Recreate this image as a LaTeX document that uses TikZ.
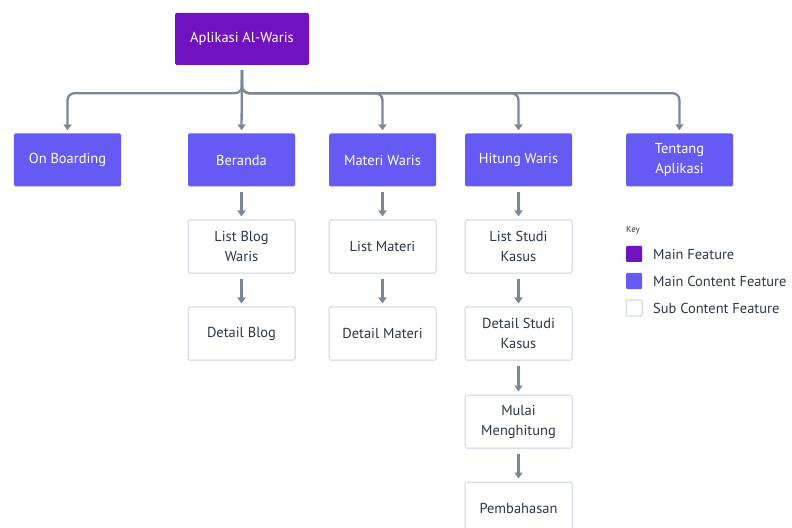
\documentclass[tikz,border=0pt]{standalone}
\usepackage{fontspec}
\setmainfont{PT Sans}
\usetikzlibrary{arrows.meta}
\definecolor{mainf}{RGB}{112,18,192}
\definecolor{contf}{RGB}{102,90,245}
\definecolor{subb}{RGB}{200,210,222}
\definecolor{conn}{RGB}{122,136,150}
\definecolor{txt}{RGB}{45,55,68}
\tikzset{
  box/.style={minimum width=107bp, minimum height=53bp, rounded corners=1.5bp, align=center, font=\fontsize{14.5}{20}\selectfont, inner sep=2bp},
  mainbox/.style={box, fill=mainf, text=white, minimum width=134bp, minimum height=52bp},
  contbox/.style={box, fill=contf, text=white},
  subbox/.style={box, fill=white, draw=subb, line width=1bp, text=txt},
  link/.style={draw=conn, line width=2.3bp, -{Triangle[length=6bp,width=8bp]}, shorten <=5bp, shorten >=3bp},
  branch/.style={link, rounded corners=7bp},
  keysq/.style={minimum size=16bp, inner sep=0pt, rounded corners=1bp},
  keytxt/.style={anchor=west, text=txt, font=\fontsize{14.5}{16}\selectfont, inner sep=0pt}
}
\begin{document}
\begin{tikzpicture}[x=1bp,y=-1bp]
\useasboundingbox (0,0) rectangle (792,528);
\node[mainbox] (top) at (242,39) {Aplikasi Al-Waris};
\node[contbox] (onb) at (67.5,160) {On Boarding};
\node[contbox] (ber) at (241.5,160) {Beranda};
\node[contbox] (mat) at (382.5,160) {Materi Waris};
\node[contbox] (hit) at (518.5,160) {Hitung Waris};
\node[contbox] (ten) at (679.5,160) {Tentang\\Aplikasi};
\node[subbox] (lbw) at (241.5,246.5) {List Blog\\Waris};
\node[subbox] (db) at (241.5,333.5) {Detail Blog};
\node[subbox] (lm) at (382.5,246.5) {List Materi};
\node[subbox] (dm) at (382.5,333.5) {Detail Materi};
\node[subbox] (lsk) at (518.5,246.5) {List Studi\\Kasus};
\node[subbox] (dsk) at (518.5,333.5) {Detail Studi\\Kasus};
\node[subbox] (mm) at (518.5,421.5) {Mulai\\Menghitung};
\node[subbox] (pb) at (518.5,508.5) {Pembahasan};
% connectors
\draw[link] (top.south) -- (ber.north);
\foreach \t in {onb,mat,hit,ten}{
  \draw[branch] (top.south) -- ++(0,28) -| (\t.north);
}
\draw[link] (ber.south) -- (lbw.north);
\draw[link] (lbw.south) -- (db.north);
\draw[link] (mat.south) -- (lm.north);
\draw[link] (lm.south) -- (dm.north);
\draw[link] (hit.south) -- (lsk.north);
\draw[link] (lsk.south) -- (dsk.north);
\draw[link] (dsk.south) -- (mm.north);
\draw[link] (mm.south) -- (pb.north);
% key
\node[anchor=west, text=txt, font=\fontsize{9}{10}\selectfont, inner sep=0pt] (keyt) at (626,230) {Key};
\node[keysq, fill=mainf] (k1) at (634,254) {};
\node[keysq, fill=contf] (k2) at (634,281) {};
\node[keysq, fill=white, draw=subb, line width=1bp] (k3) at (634,308) {};
\node[keytxt] (kt1) at (653,254) {Main Feature};
\node[keytxt] (kt2) at (653,281) {Main Content Feature};
\node[keytxt] (kt3) at (653,308) {Sub Content Feature};
\end{tikzpicture}
\end{document}
